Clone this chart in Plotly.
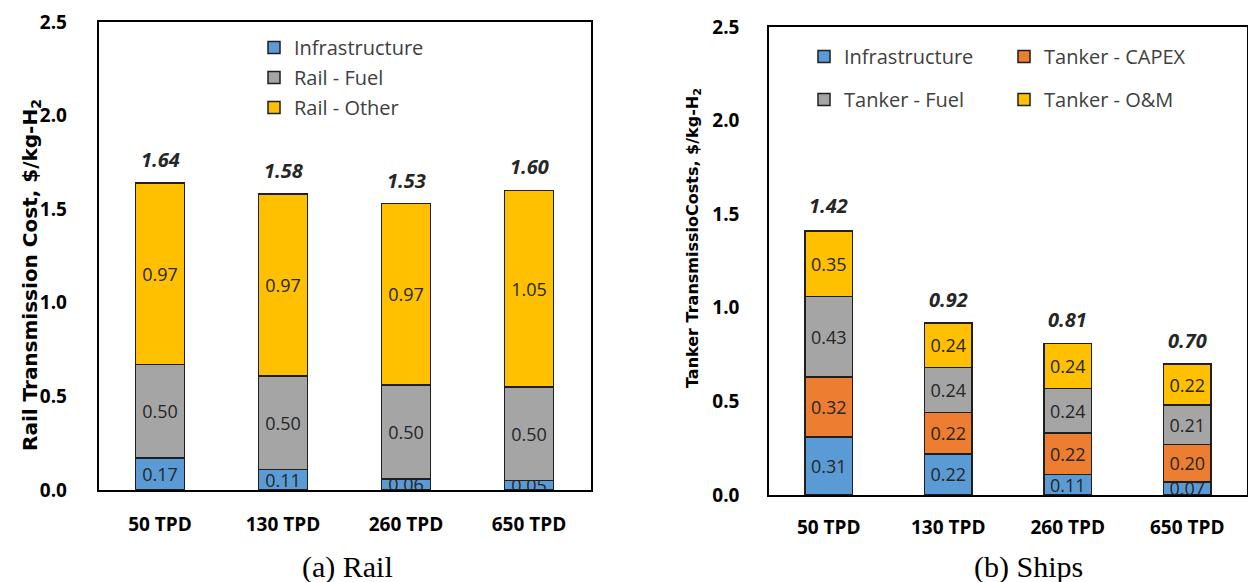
import plotly.graph_objects as go

# Categories (plant capacity) shared by both panels
categories = ["50 TPD", "130 TPD", "260 TPD", "650 TPD"]

# Panel (a): rail transmission cost components, $/kg-H2
rail_infrastructure = [0.17, 0.11, 0.06, 0.05]
rail_fuel = [0.50, 0.50, 0.50, 0.50]
rail_other = [0.97, 0.97, 0.97, 1.05]
rail_totals = [1.64, 1.58, 1.53, 1.60]

# Panel (b): tanker (ship) transmission cost components, $/kg-H2
ship_infrastructure = [0.31, 0.22, 0.11, 0.07]
ship_capex = [0.32, 0.22, 0.22, 0.20]
ship_fuel = [0.43, 0.24, 0.24, 0.21]
ship_om = [0.35, 0.24, 0.24, 0.22]
ship_totals = [1.42, 0.92, 0.81, 0.70]

y_ticks = [0.0, 0.5, 1.0, 1.5, 2.0, 2.5]

BLUE = "#5B9BD5"
ORANGE = "#ED7D31"
GRAY = "#A5A5A5"
YELLOW = "#FFC000"
OUTLINE = "#1f1f1f"
SANS = "Open Sans"
TITLE_FONT = "DejaVu Sans"
W, H = 1248, 582
LABEL_SIZE = 18


def stacked_bar(name, values, color, xa, ya, legend):
    return go.Bar(
        name=name,
        x=categories,
        y=values,
        width=0.4,
        marker=dict(color=color, line=dict(color=OUTLINE, width=1.5)),
        texttemplate="%{y:.2f}",
        textposition="inside",
        insidetextanchor="middle",
        textangle=0,
        textfont=dict(family=SANS, size=LABEL_SIZE, color="#262626"),
        xaxis=xa,
        yaxis=ya,
        legend=legend,
        legendgroup=name + "_" + xa,
        hoverinfo="name+y",
    )


fig = go.Figure()

# Panel (a) stacks
fig.add_trace(stacked_bar("Infrastructure", rail_infrastructure, BLUE, "x", "y", "legend"))
fig.add_trace(stacked_bar("Rail - Fuel", rail_fuel, GRAY, "x", "y", "legend"))
fig.add_trace(stacked_bar("Rail - Other", rail_other, YELLOW, "x", "y", "legend"))

# Panel (b) stacks (legend split into two columns)
fig.add_trace(stacked_bar("Infrastructure", ship_infrastructure, BLUE, "x2", "y2", "legend2"))
fig.add_trace(stacked_bar("Tanker - CAPEX", ship_capex, ORANGE, "x2", "y2", "legend3"))
fig.add_trace(stacked_bar("Tanker - Fuel", ship_fuel, GRAY, "x2", "y2", "legend2"))
fig.add_trace(stacked_bar("Tanker - O&M", ship_om, YELLOW, "x2", "y2", "legend3"))

annotations = []

# Total labels above each stack
for xa, ya, totals in (("x", "y", rail_totals), ("x2", "y2", ship_totals)):
    for cat, tot in zip(categories, totals):
        annotations.append(dict(
            x=cat, y=tot, xref=xa, yref=ya,
            text=f"<b><i>{tot:.2f}</i></b>",
            showarrow=False, yanchor="bottom", yshift=8,
            font=dict(family=SANS, size=20, color="#262626"),
        ))

# Y-axis titles
annotations.append(dict(
    x=31 / W, y=(H - 275) / H, xref="paper", yref="paper",
    text="<b>Rail Transmission Cost, $/kg-H<sub>2</sub></b>",
    textangle=-90, showarrow=False, xanchor="center", yanchor="middle",
    font=dict(family=TITLE_FONT, size=20, color="#000000"),
))
annotations.append(dict(
    x=693 / W, y=(H - 238) / H, xref="paper", yref="paper",
    text="<b>Tanker TransmissioCosts, $/kg-H<sub>2</sub></b>",
    textangle=-90, showarrow=False, xanchor="center", yanchor="middle",
    font=dict(family=TITLE_FONT, size=16, color="#000000"),
))

# Panel captions
annotations.append(dict(
    x=347 / W, y=(H - 567) / H, xref="paper", yref="paper",
    text="(a) Rail", showarrow=False, xanchor="center", yanchor="middle",
    font=dict(family="Liberation Serif", size=30, color="#000000"),
))
annotations.append(dict(
    x=1028 / W, y=(H - 567) / H, xref="paper", yref="paper",
    text="(b) Ships", showarrow=False, xanchor="center", yanchor="middle",
    font=dict(family="Liberation Serif", size=30, color="#000000"),
))

axis_common = dict(
    showline=True, linecolor="#000000", linewidth=1.5, mirror=True,
    showgrid=False, zeroline=False, ticks="",
)
y_common = dict(
    range=[0, 2.5], tickvals=y_ticks, ticktext=[f"{v:.1f}" for v in y_ticks],
    tickfont=dict(family=SANS, size=19, color="#000000", weight="bold"),
    **axis_common,
)
x_common = dict(
    type="category", range=[-0.5, 3.5],
    tickfont=dict(family=SANS, size=19, color="#000000", weight="bold"),
    **axis_common,
)

legend_common = dict(
    orientation="v", xanchor="left", yanchor="top",
    bgcolor="rgba(0,0,0,0)", traceorder="grouped",
    font=dict(family=SANS, size=20, color="#404040"),
    itemclick=False, itemdoubleclick=False,
)

fig.update_layout(
    width=W, height=H,
    margin=dict(l=0, r=0, t=0, b=0, autoexpand=False),
    paper_bgcolor="#ffffff", plot_bgcolor="#ffffff",
    barmode="stack",
    uniformtext=dict(minsize=LABEL_SIZE, mode="show"),
    xaxis=dict(domain=[98.5 / W, 590.5 / W], anchor="y", ticklabelstandoff=16, **x_common),
    yaxis=dict(domain=[(H - 490) / H, (H - 22) / H], anchor="x", ticklabelstandoff=26, **y_common),
    xaxis2=dict(domain=[769 / W, 1247 / W], anchor="y2", ticklabelstandoff=14, **x_common),
    yaxis2=dict(domain=[(H - 495) / H, (H - 27) / H], anchor="x2", ticklabelstandoff=24, **y_common),
    legend=dict(x=254 / W, y=(H - 28) / H, tracegroupgap=1, **legend_common),
    legend2=dict(x=804 / W, y=(H - 37) / H, tracegroupgap=14, **legend_common),
    legend3=dict(x=1004 / W, y=(H - 37) / H, tracegroupgap=14, **legend_common),
    annotations=annotations,
    showlegend=True,
)

fig.write_html("out.html")
